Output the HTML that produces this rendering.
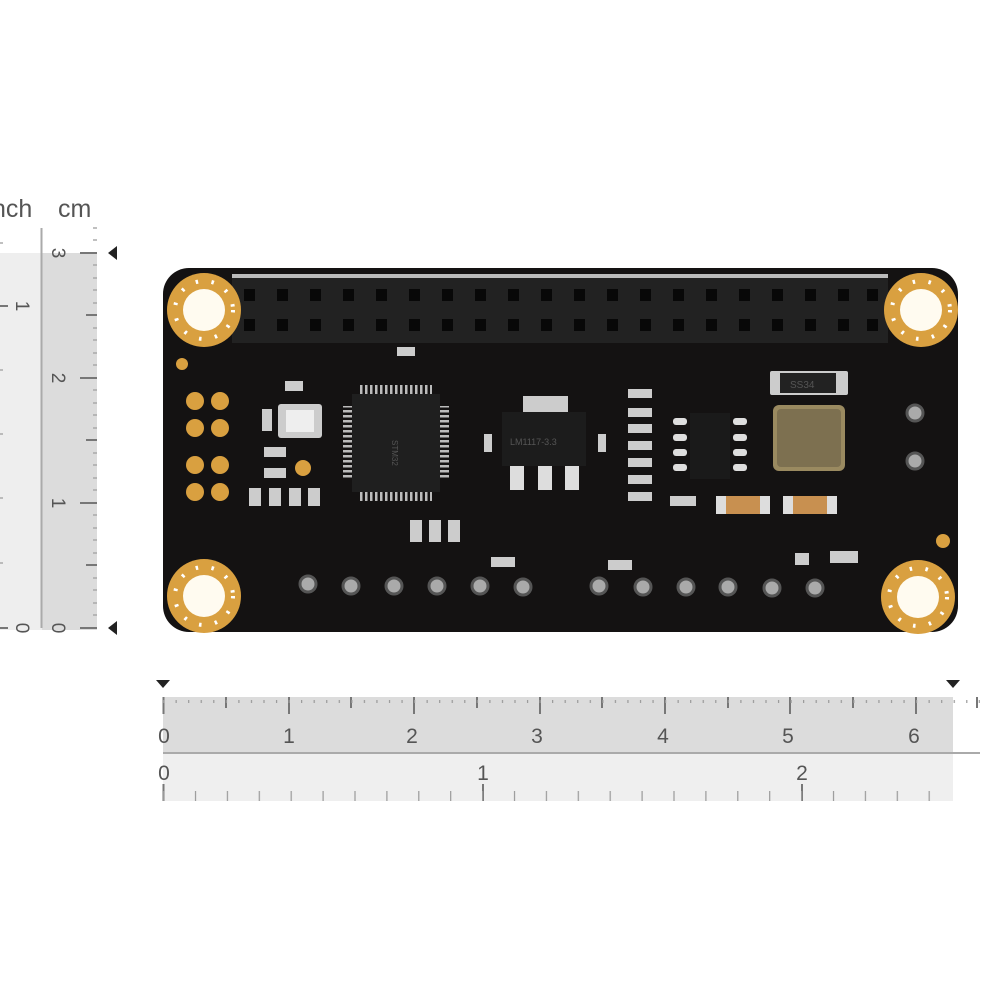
<!DOCTYPE html>
<html><head><style>
html,body{margin:0;padding:0;background:#fff;}
svg{display:block}
text{font-family:"Liberation Sans",sans-serif;fill:#555}
</style></head><body>
<svg width="1000" height="1000" viewBox="0 0 1000 1000" xmlns="http://www.w3.org/2000/svg">
<rect width="1000" height="1000" fill="#fff"/>
<rect x="0" y="253" width="42" height="377" fill="#eeeeee"/>
<rect x="42" y="253" width="55" height="377" fill="#dcdcdc"/>
<line x1="41.5" y1="228" x2="41.5" y2="628" stroke="#aaa" stroke-width="2"/>
<text x="-8" y="217" font-size="25" fill="#444">nch</text>
<text x="58" y="217" font-size="25" fill="#444">cm</text>
<g stroke="#777" stroke-width="2">
<line x1="80" y1="628" x2="97" y2="628"/><line x1="80" y1="503" x2="97" y2="503"/><line x1="80" y1="378" x2="97" y2="378"/><line x1="80" y1="253" x2="97" y2="253"/>
<line x1="86" y1="565" x2="97" y2="565"/><line x1="86" y1="440" x2="97" y2="440"/><line x1="86" y1="315" x2="97" y2="315"/>
<line x1="0" y1="628" x2="8" y2="628"/><line x1="0" y1="306" x2="8" y2="306"/>
</g>
<g stroke="#aaa" stroke-width="1.5">
<line x1="93" y1="240" x2="97" y2="240"/><line x1="93" y1="228" x2="97" y2="228"/>
<line x1="93" y1="265" x2="97" y2="265"/><line x1="93" y1="278" x2="97" y2="278"/><line x1="93" y1="290" x2="97" y2="290"/><line x1="93" y1="303" x2="97" y2="303"/>
<line x1="93" y1="328" x2="97" y2="328"/><line x1="93" y1="340" x2="97" y2="340"/><line x1="93" y1="353" x2="97" y2="353"/><line x1="93" y1="365" x2="97" y2="365"/>
<line x1="93" y1="390" x2="97" y2="390"/><line x1="93" y1="403" x2="97" y2="403"/><line x1="93" y1="415" x2="97" y2="415"/><line x1="93" y1="428" x2="97" y2="428"/>
<line x1="93" y1="453" x2="97" y2="453"/><line x1="93" y1="465" x2="97" y2="465"/><line x1="93" y1="478" x2="97" y2="478"/><line x1="93" y1="490" x2="97" y2="490"/>
<line x1="93" y1="515" x2="97" y2="515"/><line x1="93" y1="528" x2="97" y2="528"/><line x1="93" y1="540" x2="97" y2="540"/><line x1="93" y1="553" x2="97" y2="553"/>
<line x1="93" y1="578" x2="97" y2="578"/><line x1="93" y1="590" x2="97" y2="590"/><line x1="93" y1="603" x2="97" y2="603"/><line x1="93" y1="615" x2="97" y2="615"/>
<line x1="0" y1="370" x2="3" y2="370"/><line x1="0" y1="434" x2="3" y2="434"/><line x1="0" y1="498" x2="3" y2="498"/><line x1="0" y1="563" x2="3" y2="563"/><line x1="0" y1="243" x2="3" y2="243"/>
</g>
<g font-size="19" fill="#444">
<text transform="translate(52,253) rotate(90)" text-anchor="middle">3</text>
<text transform="translate(52,378) rotate(90)" text-anchor="middle">2</text>
<text transform="translate(52,503) rotate(90)" text-anchor="middle">1</text>
<text transform="translate(52,628) rotate(90)" text-anchor="middle">0</text>
<text transform="translate(16,306) rotate(90)" text-anchor="middle">1</text>
<text transform="translate(16,628) rotate(90)" text-anchor="middle">0</text>
</g>
<polygon points="108,253 117,246 117,260" fill="#222"/>
<polygon points="108,628 117,621 117,635" fill="#222"/>
<rect x="163" y="697" width="790" height="56" fill="#dcdcdc"/>
<rect x="163" y="753" width="790" height="48" fill="#efefef"/>
<line x1="163" y1="753" x2="980" y2="753" stroke="#aaa" stroke-width="2"/>
<polygon points="156,680 170,680 163,688" fill="#222"/>
<polygon points="946,680 960,680 953,688" fill="#222"/>
<g stroke="#777" stroke-width="2">
<line x1="163.5" y1="697" x2="163.5" y2="714"/><line x1="289" y1="697" x2="289" y2="714"/><line x1="414" y1="697" x2="414" y2="714"/><line x1="540" y1="697" x2="540" y2="714"/><line x1="665" y1="697" x2="665" y2="714"/><line x1="790" y1="697" x2="790" y2="714"/><line x1="916" y1="697" x2="916" y2="714"/>
<line x1="226" y1="697" x2="226" y2="708"/><line x1="351" y1="697" x2="351" y2="708"/><line x1="477" y1="697" x2="477" y2="708"/><line x1="602" y1="697" x2="602" y2="708"/><line x1="728" y1="697" x2="728" y2="708"/><line x1="853" y1="697" x2="853" y2="708"/><line x1="977" y1="697" x2="977" y2="708"/>
<line x1="163.5" y1="784" x2="163.5" y2="801"/><line x1="483" y1="784" x2="483" y2="801"/><line x1="802" y1="784" x2="802" y2="801"/>
</g>
<g font-size="21" fill="#444" text-anchor="middle">
<text x="164" y="743">0</text><text x="289" y="743">1</text><text x="412" y="743">2</text><text x="537" y="743">3</text><text x="663" y="743">4</text><text x="788" y="743">5</text><text x="914" y="743">6</text>
<text x="164" y="780">0</text><text x="483" y="780">1</text><text x="802" y="780">2</text>
</g>
<defs>
<pattern id="tk" x="163" y="0" width="12.55" height="10" patternUnits="userSpaceOnUse"><rect x="0" y="0" width="1.2" height="6" fill="#999"/></pattern>
<pattern id="tk2" x="163" y="0" width="31.9" height="10" patternUnits="userSpaceOnUse"><rect x="0" y="0" width="1.2" height="10" fill="#999"/></pattern>
<pattern id="ph" x="0" y="0" width="5" height="10" patternUnits="userSpaceOnUse"><rect x="0" y="0" width="2.5" height="10" fill="#bbb"/></pattern>
<pattern id="pv" x="0" y="0" width="10" height="5" patternUnits="userSpaceOnUse"><rect x="0" y="0" width="10" height="2.5" fill="#bbb"/></pattern>
</defs>
<rect x="163" y="697" width="817" height="6" fill="url(#tk)"/>
<rect x="163" y="791" width="790" height="10" fill="url(#tk2)"/>
<rect x="163" y="268" width="795" height="364" rx="26" fill="#141212"/>
<rect x="232" y="275" width="656" height="68" fill="#222"/>
<rect x="232" y="274" width="656" height="4" fill="#bbb"/>
<g fill="#080808">
<rect x="244" y="289" width="11" height="12"/><rect x="277" y="289" width="11" height="12"/><rect x="310" y="289" width="11" height="12"/><rect x="343" y="289" width="11" height="12"/><rect x="376" y="289" width="11" height="12"/><rect x="409" y="289" width="11" height="12"/><rect x="442" y="289" width="11" height="12"/><rect x="475" y="289" width="11" height="12"/><rect x="508" y="289" width="11" height="12"/><rect x="541" y="289" width="11" height="12"/><rect x="574" y="289" width="11" height="12"/><rect x="607" y="289" width="11" height="12"/><rect x="640" y="289" width="11" height="12"/><rect x="673" y="289" width="11" height="12"/><rect x="706" y="289" width="11" height="12"/><rect x="739" y="289" width="11" height="12"/><rect x="772" y="289" width="11" height="12"/><rect x="805" y="289" width="11" height="12"/><rect x="838" y="289" width="11" height="12"/><rect x="867" y="289" width="11" height="12"/>
<rect x="244" y="319" width="11" height="12"/><rect x="277" y="319" width="11" height="12"/><rect x="310" y="319" width="11" height="12"/><rect x="343" y="319" width="11" height="12"/><rect x="376" y="319" width="11" height="12"/><rect x="409" y="319" width="11" height="12"/><rect x="442" y="319" width="11" height="12"/><rect x="475" y="319" width="11" height="12"/><rect x="508" y="319" width="11" height="12"/><rect x="541" y="319" width="11" height="12"/><rect x="574" y="319" width="11" height="12"/><rect x="607" y="319" width="11" height="12"/><rect x="640" y="319" width="11" height="12"/><rect x="673" y="319" width="11" height="12"/><rect x="706" y="319" width="11" height="12"/><rect x="739" y="319" width="11" height="12"/><rect x="772" y="319" width="11" height="12"/><rect x="805" y="319" width="11" height="12"/><rect x="838" y="319" width="11" height="12"/><rect x="867" y="319" width="11" height="12"/>
</g>
<g fill="#d9a040">
<circle cx="204" cy="310" r="37"/><circle cx="921" cy="310" r="37"/><circle cx="204" cy="596" r="37"/><circle cx="918" cy="597" r="37"/>
</g>
<g fill="#fffbf0">
<circle cx="204" cy="310" r="21"/><circle cx="921" cy="310" r="21"/><circle cx="204" cy="596" r="21"/><circle cx="918" cy="597" r="21"/>
</g>
<g fill="none" stroke="#fff" stroke-width="4" stroke-dasharray="2.5 13.5">
<circle cx="204" cy="310" r="29"/><circle cx="921" cy="310" r="29"/><circle cx="204" cy="596" r="29"/><circle cx="918" cy="597" r="29"/>
</g>
<g fill="#d9a040">
<circle cx="182" cy="364" r="6"/>
<circle cx="195" cy="401" r="9"/><circle cx="220" cy="401" r="9"/>
<circle cx="195" cy="428" r="9"/><circle cx="220" cy="428" r="9"/>
<circle cx="195" cy="465" r="9"/><circle cx="220" cy="465" r="9"/>
<circle cx="195" cy="492" r="9"/><circle cx="220" cy="492" r="9"/>
<circle cx="303" cy="468" r="8"/><circle cx="943" cy="541" r="7"/>
</g>
<rect x="278" y="404" width="44" height="34" rx="3" fill="#ccc"/>
<rect x="286" y="410" width="28" height="22" fill="#eee"/>
<rect x="360" y="385" width="72" height="9" fill="url(#ph)"/>
<rect x="360" y="492" width="72" height="9" fill="url(#ph)"/>
<rect x="343" y="406" width="9" height="74" fill="url(#pv)"/>
<rect x="440" y="406" width="9" height="74" fill="url(#pv)"/>
<rect x="352" y="394" width="88" height="98" fill="#1f1f1f"/>
<text x="392" y="440" font-size="8" fill="#777" transform="rotate(90 392 440)">STM32</text>
<rect x="523" y="396" width="45" height="20" fill="#ccc"/>
<rect x="502" y="412" width="84" height="54" fill="#1c1c1c"/>
<rect x="510" y="466" width="14" height="24" fill="#ddd"/><rect x="538" y="466" width="14" height="24" fill="#ddd"/><rect x="565" y="466" width="14" height="24" fill="#ddd"/>
<text x="510" y="445" font-size="9" fill="#aaa">LM1117-3.3</text>
<rect x="690" y="413" width="40" height="66" fill="#1a1a1a"/>
<g fill="#ddd"><rect x="673" y="418" width="14" height="7" rx="3"/><rect x="673" y="434" width="14" height="7" rx="3"/><rect x="673" y="449" width="14" height="7" rx="3"/><rect x="673" y="464" width="14" height="7" rx="3"/>
<rect x="733" y="418" width="14" height="7" rx="3"/><rect x="733" y="434" width="14" height="7" rx="3"/><rect x="733" y="449" width="14" height="7" rx="3"/><rect x="733" y="464" width="14" height="7" rx="3"/></g>
<rect x="770" y="371" width="78" height="24" rx="2" fill="#ccc"/><rect x="780" y="373" width="56" height="20" fill="#222"/>
<text x="790" y="388" font-size="10" fill="#999">SS34</text>
<rect x="773" y="405" width="72" height="66" rx="6" fill="#9a8a60"/>
<rect x="777" y="409" width="64" height="58" rx="4" fill="#7d7050"/>
<rect x="716" y="496" width="54" height="18" fill="#ddd"/><rect x="726" y="496" width="34" height="18" fill="#c89050"/>
<rect x="783" y="496" width="54" height="18" fill="#ddd"/><rect x="793" y="496" width="34" height="18" fill="#c89050"/>
<g fill="#ccc">
<rect x="628" y="389" width="24" height="9"/><rect x="628" y="408" width="24" height="9"/><rect x="628" y="424" width="24" height="9"/><rect x="628" y="441" width="24" height="9"/><rect x="628" y="458" width="24" height="9"/><rect x="628" y="475" width="24" height="9"/><rect x="628" y="492" width="24" height="9"/>
<rect x="670" y="496" width="26" height="10"/><rect x="397" y="347" width="18" height="9"/><rect x="285" y="381" width="18" height="10"/>
<rect x="249" y="488" width="12" height="18"/><rect x="269" y="488" width="12" height="18"/><rect x="289" y="488" width="12" height="18"/><rect x="308" y="488" width="12" height="18"/>
<rect x="410" y="520" width="12" height="22"/><rect x="429" y="520" width="12" height="22"/><rect x="448" y="520" width="12" height="22"/>
<rect x="264" y="447" width="22" height="10"/><rect x="264" y="468" width="22" height="10"/>
<rect x="262" y="409" width="10" height="22"/><rect x="484" y="434" width="8" height="18"/><rect x="598" y="434" width="8" height="18"/>
<rect x="491" y="557" width="24" height="10"/><rect x="608" y="560" width="24" height="10"/>
<rect x="795" y="553" width="14" height="12"/><rect x="830" y="551" width="28" height="12"/>
</g>
<g fill="#aaa" stroke="#555" stroke-width="3">
<circle cx="308" cy="584" r="8"/><circle cx="351" cy="586" r="8"/><circle cx="394" cy="586" r="8"/><circle cx="437" cy="586" r="8"/><circle cx="480" cy="586" r="8"/><circle cx="523" cy="587" r="8"/>
<circle cx="599" cy="586" r="8"/><circle cx="643" cy="587" r="8"/><circle cx="686" cy="587" r="8"/><circle cx="728" cy="587" r="8"/><circle cx="772" cy="588" r="8"/><circle cx="815" cy="588" r="8"/>
<circle cx="915" cy="413" r="8"/><circle cx="915" cy="461" r="8"/>
</g>
</svg>
</body></html>
